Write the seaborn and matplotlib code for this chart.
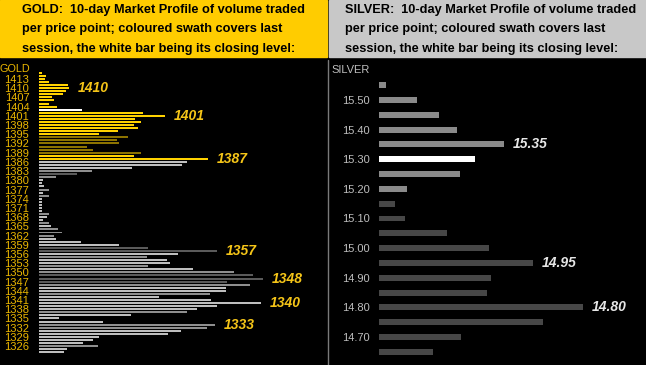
import numpy as np
import pandas as pd
import matplotlib
matplotlib.use("Agg")
import matplotlib.pyplot as plt
import seaborn as sns
from matplotlib.patches import Rectangle
from matplotlib.lines import Line2D
from matplotlib import font_manager as fm

# ---------------- data ----------------
gold_prices = list(range(1415, 1323, -1))  # 1415 .. 1324
gold_volume = [3, 7, 6, 10, 29, 30, 27, 24, 13, 15, 10, 18,
               43,
               104, 126, 96, 102, 95, 99, 79, 60,
               89, 78, 80, 48, 54, 102,
               95, 169,
               148, 143, 93, 53, 38, 17, 4, 3, 5, 10,
               4, 10, 3, 3, 3, 3, 3, 10, 8, 4,
               10, 12, 19, 23, 15, 17, 42, 80, 109, 178,
               139, 108, 128, 131, 109, 154, 195, 214, 224, 188,
               211, 187, 187, 171, 120, 172, 222, 178, 158, 148,
               92, 20, 64, 176, 168, 142, 129, 60, 54, 44,
               59, 28, 25]
gold_shade = (["Y"] * 12 + ["W"] + ["Y"] * 8 + ["O"] * 6 + ["Y"] * 2 +
              ["L", "L", "L", "M", "D", "M", "L", "L", "L", "M",
               "L", "M", "L", "L", "L", "L", "L", "M", "L", "L",
               "M", "L", "M", "M", "M", "L", "L", "L", "D", "D",
               "L", "M", "L", "L", "M", "L", "M", "D", "D", "D",
               "M", "L", "L", "M", "L", "L", "L", "L", "L", "M",
               "L", "L", "L", "M", "M", "L", "L", "L", "L", "L",
               "M", "L", "L"])
gold_tick_vals = list(range(1413, 1325, -3))
gold_annot = [1410, 1401, 1387, 1357, 1348, 1340, 1333]

silver_prices = [15.55, 15.50, 15.45, 15.40, 15.35, 15.30, 15.25, 15.20, 15.15,
                 15.10, 15.05, 15.00, 14.95, 14.90, 14.85, 14.80, 14.75, 14.70, 14.65]
silver_volume = [6.5, 38, 60, 78, 125, 96, 81, 28, 16,
                 26, 68, 110, 154, 112, 108, 204, 164, 82, 54]
silver_shade = ["M", "M", "M", "M", "M", "W", "M", "M", "D",
                "D", "D", "D", "D", "D", "D", "D", "D", "D", "D"]
silver_tick_vals = [15.50, 15.40, 15.30, 15.20, 15.10, 15.00, 14.90, 14.80, 14.70]
silver_annot = [15.35, 14.95, 14.80]

gold_header = ["GOLD:  10-day Market Profile of volume traded",
               "per price point; coloured swath covers last",
               "session, the white bar being its closing level:"]
silver_header = ["SILVER:  10-day Market Profile of volume traded",
                 "per price point; coloured swath covers last",
                 "session, the white bar being its closing level:"]

# ---------------- style ----------------
gold_pal = {"Y": "#FFD200", "O": "#8C7300", "W": "#FFFFFF",
            "L": "#BEBEBE", "M": "#8E8E8E", "D": "#5A5A5A"}
silver_pal = {"M": "#8A8A8A", "W": "#FFFFFF", "D": "#474747"}
gold_txt = "#EBB700"
gold_ann = "#F5C518"
silver_txt = "#BEBEBE"

sns.set_theme(style="dark")
plt.rcParams["font.family"] = ["Liberation Sans", "DejaVu Sans"]
names = {f.name for f in fm.fontManager.ttflist}
narrow = "Liberation Sans Narrow" if "Liberation Sans Narrow" in names else "Liberation Sans"

W, H = 646, 365
fig = plt.figure(figsize=(W / 100, H / 100), dpi=100, facecolor="black")


def fx(px):
    return px / W


def fy(py):
    return 1 - py / H


fig.patches.append(Rectangle((0, fy(57)), fx(327), 57 / H, transform=fig.transFigure,
                             color="#FFCC00", zorder=0))
fig.patches.append(Rectangle((fx(329), fy(57)), 1 - fx(329), 57 / H, transform=fig.transFigure,
                             color="#C8C8C8", zorder=0))
for i, (g, s) in enumerate(zip(gold_header, silver_header)):
    yy = fy(10 + i * 19.3)
    fig.text(fx(22), yy, g, ha="left", va="center", fontsize=9.2, fontweight="bold", color="black")
    fig.text(fx(345), yy, s, ha="left", va="center", fontsize=9.2, fontweight="bold", color="black")

fig.add_artist(Line2D([fx(327.5), fx(327.5)], [fy(60), 0], transform=fig.transFigure,
                      color="#7A7A7A", lw=1))

# ---------------- gold panel ----------------
dfg = pd.DataFrame({"price": gold_prices, "volume": gold_volume, "shade": gold_shade})
ax1 = fig.add_axes([fx(39), fy(360), fx(325) - fx(39), (360 - 62) / H])
ax1.set_facecolor("black")
sns.barplot(data=dfg, x="volume", y="price", hue="shade", palette=gold_pal, orient="h",
            native_scale=True, dodge=False, width=0.65, errorbar=None, legend=False,
            saturation=1, linewidth=0, ax=ax1)
ax1.set_xlim(0, 286)
ax1.set_ylim(1413 - (360 - 79) / 3.07, 1413 + (79 - 62) / 3.07)
ax1.set_yticks(gold_tick_vals)
ax1.set_yticklabels([str(v) for v in gold_tick_vals], fontfamily=narrow)
ax1.tick_params(axis="y", length=0, pad=7, colors=gold_txt, labelsize=8)
ax1.set_xticks([])
ax1.set_xlabel("")
ax1.set_ylabel("")
ax1.grid(False)
for sp in ax1.spines.values():
    sp.set_visible(False)
gvol = dict(zip(gold_prices, gold_volume))
for p in gold_annot:
    ax1.text(gvol[p] + 9, p, str(p), ha="left", va="center", fontsize=10,
             fontweight="bold", fontstyle="italic", color=gold_ann)
fig.text(fx(30), fy(69), "GOLD", ha="right", va="center", fontsize=7.8,
         color=gold_txt, fontfamily=narrow)

# ---------------- silver panel ----------------
dfs = pd.DataFrame({"price": silver_prices, "volume": silver_volume, "shade": silver_shade})
ax2 = fig.add_axes([fx(379), fy(360), fx(644) - fx(379), (360 - 62) / H])
ax2.set_facecolor("black")
sns.barplot(data=dfs, x="volume", y="price", hue="shade", palette=silver_pal, orient="h",
            native_scale=True, dodge=False, width=0.4, errorbar=None, legend=False,
            saturation=1, linewidth=0, ax=ax2)
spx = 296.25
ax2.set_xlim(0, 265)
ax2.set_ylim(15.50 - (360 - 100) / spx, 15.50 + (100 - 62) / spx)
ax2.set_yticks(silver_tick_vals)
ax2.set_yticklabels([f"{v:.2f}" for v in silver_tick_vals])
ax2.tick_params(axis="y", length=0, pad=6.5, colors=silver_txt, labelsize=8)
ax2.set_xticks([])
ax2.set_xlabel("")
ax2.set_ylabel("")
ax2.grid(False)
for sp in ax2.spines.values():
    sp.set_visible(False)
svol = dict(zip(silver_prices, silver_volume))
for p in silver_annot:
    ax2.text(svol[p] + 9, p, f"{p:.2f}", ha="left", va="center", fontsize=10,
             fontweight="bold", fontstyle="italic", color="#E6E6E6")
fig.text(fx(370), fy(70), "SILVER", ha="right", va="center", fontsize=8, color=silver_txt)

fig.savefig("out.png", dpi=100, facecolor="black")
